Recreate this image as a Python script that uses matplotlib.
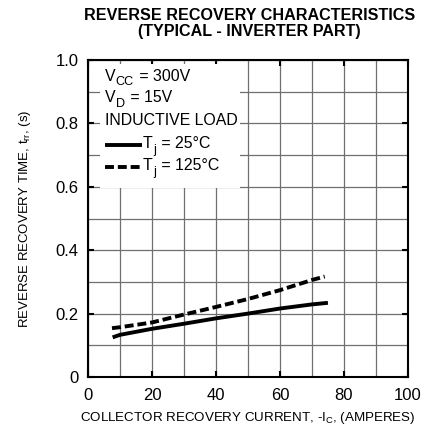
import matplotlib
matplotlib.use("Agg")
import matplotlib.pyplot as plt
from matplotlib.patches import Rectangle

plt.rcParams['font.family'] = ['Liberation Sans', 'DejaVu Sans']
plt.rcParams['mathtext.fontset'] = 'custom'
plt.rcParams['mathtext.rm'] = 'Liberation Sans'
plt.rcParams['mathtext.it'] = 'Liberation Sans:italic'

# values (current in A, time in s)
ic_25 = [7.7, 10, 20, 30, 40, 50, 60, 70, 75]
trr_25 = [0.125, 0.133, 0.152, 0.168, 0.185, 0.200, 0.216, 0.229, 0.234]
ic_125 = [7.5, 10, 20, 30, 40, 50, 60, 70, 74]
trr_125 = [0.154, 0.157, 0.172, 0.197, 0.221, 0.246, 0.274, 0.306, 0.317]

x_ticks = [0, 20, 40, 60, 80, 100]
y_ticks = [0, 0.2, 0.4, 0.6, 0.8, 1.0]
y_tick_labels = ['0', '0.2', '0.4', '0.6', '0.8', '1.0']

LW = 2.8
DASH = (2.3, 1.0)


def sub_text(ax, x, y, parts, fs):
    # write text with real lowered subscripts, piece after piece
    t = ax.text(x, y, parts[0][0], fontsize=fs, va='bottom', zorder=5)
    prev, was_sub = t, False
    for s, is_sub in parts[1:]:
        if is_sub:
            off = (0.3, -fs * 0.28)
            size = fs * 0.8
        else:
            off = (0.6, fs * 0.28 if was_sub else 0)
            size = fs
        prev = ax.annotate(s, xy=(1, 0), xycoords=prev, xytext=off,
                           textcoords='offset points', fontsize=size,
                           va='bottom', zorder=5)
        was_sub = is_sub


fig = plt.figure(figsize=(4.4, 4.3), dpi=100)
ax = fig.add_axes([0.2, 0.1233, 0.727, 0.737])

ax.set_xlim(0, 100)
ax.set_ylim(0, 1.0)
ax.set_xticks(x_ticks)
ax.set_xticklabels([str(t) for t in x_ticks])
ax.set_yticks(y_ticks)
ax.set_yticklabels(y_tick_labels)
ax.set_xticks(range(0, 101, 10), minor=True)
ax.set_yticks([i / 10 for i in range(11)], minor=True)
ax.grid(which='both', color='#6f6f6f', linewidth=0.9)
ax.tick_params(which='major', direction='in', length=4, width=1.5,
               top=True, right=True, labelsize=12)
ax.tick_params(axis='x', pad=8)
ax.tick_params(axis='y', pad=7)
ax.tick_params(which='minor', length=0)
for s in ax.spines.values():
    s.set_linewidth(1.5)

ax.plot(ic_25, trr_25, color='black', lw=LW, solid_capstyle='butt', zorder=4)
ax.plot(ic_125, trr_125, color='black', lw=LW, dashes=DASH, zorder=4)

# legend area covers the grid
ax.add_patch(Rectangle((3.6, 0.595), 44, 0.393, facecolor='white',
                       edgecolor='none', zorder=3))
fs = 11.4
sub_text(ax, 5.2, 0.925, [('V', False), ('CC', True), (' = 300V', False)], fs)
sub_text(ax, 5.2, 0.857, [('V', False), ('D', True), (' = 15V', False)], fs)
ax.text(5.2, 0.785, 'INDUCTIVE LOAD', fontsize=fs, va='bottom', zorder=5)
ax.plot([5.3, 16.8], [0.732, 0.732], color='black', lw=LW, solid_capstyle='butt', zorder=5)
sub_text(ax, 17.2, 0.712, [('T', False), ('j', True), (' = 25°C', False)], fs)
ax.plot([5.3, 16.8], [0.662, 0.662], color='black', lw=LW, dashes=DASH, zorder=5)
sub_text(ax, 17.2, 0.643, [('T', False), ('j', True), (' = 125°C', False)], fs)

fig.text(0.567, 0.946, 'REVERSE RECOVERY CHARACTERISTICS\n(TYPICAL - INVERTER PART)',
         ha='center', va='center', fontsize=11.6, fontweight='bold', linespacing=1.05)
ax.set_xlabel(r'COLLECTOR RECOVERY CURRENT, -I$_{\mathrm{C}}$, (AMPERES)', fontsize=9.6, labelpad=5)
ax.set_ylabel(r'REVERSE RECOVERY TIME, t$_{\mathrm{rr}}$, (s)', fontsize=9.5, labelpad=16)

fig.savefig('out.png', dpi=100)
